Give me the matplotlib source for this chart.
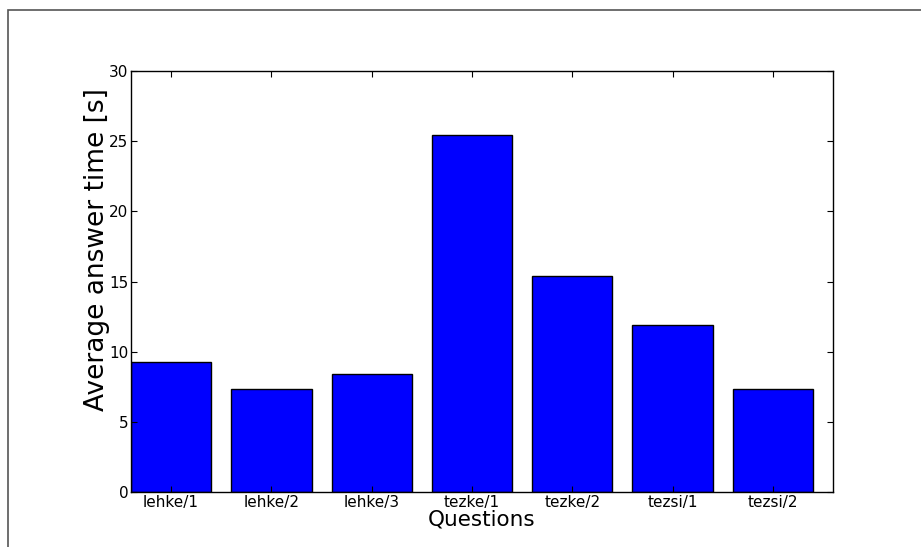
import matplotlib
matplotlib.use("Agg")
import matplotlib.pyplot as plt
from matplotlib.patches import Rectangle

questions = ["lehke/1", "lehke/2", "lehke/3", "tezke/1", "tezke/2", "tezsi/1", "tezsi/2"]
avg_time = [9.29, 7.36, 8.43, 25.44, 15.37, 11.88, 7.32]
y_ticks = [0, 5, 10, 15, 20, 25, 30]

fig = plt.figure(figsize=(9.21, 5.47), dpi=100)
ax = fig.add_axes([131 / 921, 1 - 492 / 547, 702 / 921, 421 / 547])

pos = list(range(len(questions)))
ax.bar(pos, avg_time, width=0.8, align="edge", color="#0000ff", edgecolor="black", linewidth=1.0)

ax.set_xlim(0, len(questions))
ax.set_ylim(0, 30)
ax.set_xticks([p + 0.4 for p in pos])
ax.set_xticklabels(questions, fontsize=11)
ax.set_yticks(y_ticks)
ax.set_yticklabels([str(t) for t in y_ticks], fontsize=11)
ax.tick_params(direction="in", top=True, right=True, length=4, width=0.8, pad=2)

ax.set_xlabel("Questions", fontsize=15.5, labelpad=0)
# y label sits a bit above the axes centre in the original
fig.text(97 / 921, 1 - 249.5 / 547, "Average answer time [s]", fontsize=19,
         rotation=90, ha="center", va="center")

for s in ax.spines.values():
    s.set_linewidth(1.0)

# frame of the original (cropped) figure
fig.patches.append(Rectangle((8 / 921, -0.2), 1.2, 1 - 10 / 547 + 0.2, transform=fig.transFigure,
                             fill=False, edgecolor="#555555", linewidth=1.2))

fig.savefig("out.png", dpi=100)
